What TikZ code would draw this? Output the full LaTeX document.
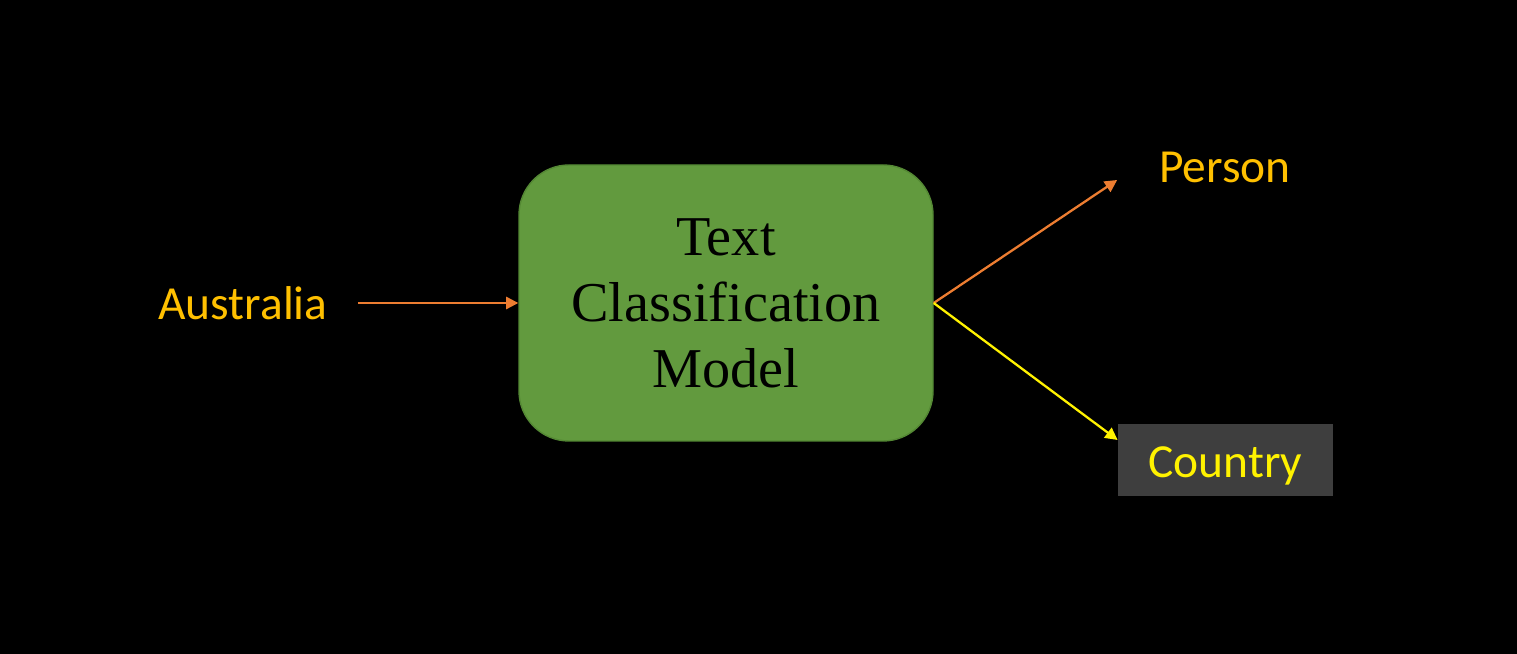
\documentclass[tikz,border=0pt]{standalone}
\usepackage{fontspec}
\setmainfont{Carlito}
\newfontfamily\boxfont{Liberation Serif}
\usetikzlibrary{arrows.meta}
\definecolor{modelgreen}{RGB}{98,154,62}
\definecolor{edgegreen}{RGB}{84,136,52}
\definecolor{arroworange}{RGB}{237,125,49}
\definecolor{labelgold}{RGB}{255,192,0}
\definecolor{catgrey}{RGB}{62,62,62}
\tikzset{
	modelbox/.style={fill=modelgreen,draw=edgegreen,line width=0.8pt,rounded corners=1cm,
		minimum width=8.28cm,minimum height=5.52cm,align=center,
		font=\boxfont\fontsize{32}{37.5}\selectfont},
	lbl/.style={text=labelgold,font=\fontsize{27}{32}\selectfont,inner sep=14pt},
	catbox/.style={fill=catgrey,text=yellow,font=\fontsize{27}{32}\selectfont,
		minimum width=4.3cm,minimum height=1.44cm,text height=20pt,text depth=0pt},
	flow/.style={->,line width=1.3pt}
}
\begin{document}
\begin{tikzpicture}[>={Triangle[length=7pt,width=7pt]}]
		\fill[black] (0,0) rectangle (30.34,13.08);
		\useasboundingbox (0,0) rectangle (30.34,13.08);
		\node[modelbox] (model) at (14.52,7.02) {Text\\Classification\\Model};
		\node[lbl,inner xsep=17pt] (input) at (4.86,7.02) {Australia};
		\node[lbl,minimum width=4.3cm] (person) at (24.5,9.74) {Person};
		\node[catbox] (country) at (24.51,3.88) {Country};
		\draw[flow,arroworange] (input.east) -- (model.west);
		\draw[flow,arroworange] (model.east) -- ([yshift=-0.26cm]person.west);
		\draw[flow,yellow] (model.east) -- ([yshift=0.4cm]country.west);
	\end{tikzpicture}
\end{document}
